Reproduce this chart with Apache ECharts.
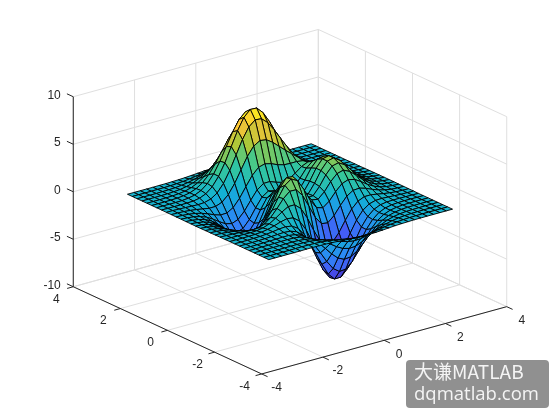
<!DOCTYPE html>
<html>
<head>
<meta charset="utf-8">
<style>html,body{margin:0;padding:0;background:#fff}#c{width:560px;height:420px}</style>
<script src="https://cdn.jsdelivr.net/npm/echarts@6/dist/echarts.min.js"></script>
</head>
<body>
<div id="c"></div>
<script>
const xTicks = [-4,-2,0,2,4];
const yTicks = [-4,-2,0,2,4];
const zTicks = [-10,-5,0,5,10];
const meshX = [-3,-2.793,-2.586,-2.379,-2.172,-1.966,-1.759,-1.552,-1.345,-1.138,-0.931,-0.724,-0.517,-0.31,-0.103,0.103,0.31,0.517,0.724,0.931,1.138,1.345,1.552,1.759,1.966,2.172,2.379,2.586,2.793,3];
const meshY = meshX.slice();
const heights = [
[0,0,0,0,0,0,.01,.01,0,-.01,-.04,-.08,-.13,-.19,-.23,-.25,-.25,-.22,-.18,-.13,-.08,-.05,-.03,-.01,-.01,0,0,0,0,0],
[0,0,0,0,0,.01,.01,.01,-.01,-.04,-.11,-.2,-.32,-.45,-.55,-.6,-.58,-.51,-.41,-.29,-.19,-.11,-.06,-.03,-.01,0,0,0,0,0],
[0,0,0,0,.01,.01,.02,.01,-.02,-.1,-.23,-.43,-.67,-.93,-1.13,-1.23,-1.2,-1.06,-.84,-.6,-.39,-.23,-.12,-.06,-.02,-.01,0,0,0,0],
[0,0,0,.01,.01,.02,.03,.01,-.05,-.18,-.43,-.79,-1.25,-1.72,-2.09,-2.28,-2.22,-1.95,-1.55,-1.11,-.71,-.41,-.22,-.1,-.04,-.02,-.01,0,0,0],
[0,0,.01,.01,.02,.04,.05,.03,-.05,-.26,-.64,-1.23,-1.96,-2.72,-3.34,-3.65,-3.58,-3.15,-2.5,-1.78,-1.14,-.66,-.34,-.16,-.06,-.02,-.01,0,0,0],
[0,0,.01,.02,.03,.05,.07,.07,-.03,-.29,-.81,-1.61,-2.66,-3.76,-4.68,-5.17,-5.1,-4.5,-3.57,-2.53,-1.61,-.91,-.46,-.2,-.08,-.02,0,0,0,0],
[0,0,.01,.02,.04,.08,.12,.15,.1,-.14,-.69,-1.62,-2.88,-4.28,-5.5,-6.2,-6.19,-5.51,-4.37,-3.07,-1.92,-1.05,-.5,-.2,-.06,-.01,.01,.01,0,0],
[0,0,0,.02,.04,.09,.17,.27,.32,.22,-.2,-1.06,-2.35,-3.9,-5.35,-6.28,-6.43,-5.78,-4.57,-3.16,-1.9,-.97,-.39,-.1,.01,.03,.03,.02,.01,0],
[0,0,-.01,0,.02,.07,.18,.37,.59,.75,.66,.14,-.92,-2.39,-3.93,-5.07,-5.46,-5.01,-3.93,-2.6,-1.41,-.55,-.07,.12,.15,.11,.07,.03,.02,.01],
[-.01,-.01,-.02,-.04,-.05,-.02,.09,.34,.75,1.23,1.61,1.62,1.03,-.14,-1.62,-2.91,-3.57,-3.41,-2.59,-1.48,-.48,.17,.46,.47,.36,.23,.13,.06,.03,.01],
[-.01,-.03,-.06,-.1,-.16,-.2,-.15,.08,.6,1.36,2.21,2.8,2.78,2.02,.7,-.65,-1.52,-1.62,-1.03,-.14,.64,1.07,1.12,.92,.63,.38,.2,.09,.04,.02],
[-.02,-.04,-.1,-.19,-.33,-.48,-.57,-.45,.04,.95,2.12,3.19,3.68,3.31,2.2,.88,-.07,-.27,.24,1.05,1.71,1.96,1.8,1.39,.92,.54,.28,.13,.06,.02],
[-.03,-.06,-.14,-.29,-.52,-.82,-1.11,-1.19,-.85,.04,1.35,2.71,3.56,3.51,2.61,1.39,.5,.39,.99,1.88,2.54,2.72,2.4,1.82,1.2,.69,.36,.17,.07,.03],
[-.03,-.08,-.19,-.38,-.7,-1.15,-1.63,-1.94,-1.82,-1.07,.24,1.72,2.78,2.96,2.25,1.2,.47,.53,1.31,2.35,3.1,3.26,2.86,2.14,1.41,.82,.43,.2,.08,.03],
[-.04,-.09,-.21,-.45,-.83,-1.37,-2.01,-2.52,-2.6,-2.02,-.81,.68,1.84,2.17,1.65,.78,.24,.48,1.42,2.57,3.38,3.54,3.09,2.32,1.52,.88,.46,.21,.09,.03],
[-.04,-.09,-.22,-.46,-.87,-1.46,-2.17,-2.78,-3.01,-2.59,-1.52,-.12,1.04,1.46,1.11,.42,.04,.4,1.4,2.57,3.38,3.53,3.08,2.31,1.51,.87,.46,.21,.09,.03],
[-.03,-.09,-.21,-.44,-.82,-1.39,-2.08,-2.71,-3,-2.71,-1.81,-.58,.49,.94,.71,.19,-.06,.33,1.28,2.37,3.11,3.24,2.82,2.11,1.38,.8,.42,.19,.08,.03],
[-.03,-.08,-.18,-.37,-.7,-1.19,-1.8,-2.35,-2.63,-2.41,-1.66,-.61,.34,.79,.67,.3,.12,.46,1.23,2.11,2.69,2.77,2.4,1.79,1.17,.68,.35,.16,.07,.03],
[-.02,-.06,-.14,-.29,-.54,-.92,-1.37,-1.78,-1.95,-1.7,-1,-.04,.86,1.36,1.38,1.12,.93,1.07,1.52,2.04,2.34,2.3,1.94,1.43,.92,.53,.27,.13,.05,.02],
[-.02,-.04,-.1,-.2,-.37,-.61,-.89,-1.1,-1.07,-.68,.11,1.15,2.15,2.82,3.01,2.84,2.55,2.36,2.32,2.33,2.24,1.97,1.57,1.11,.7,.39,.2,.09,.04,.01],
[-.01,-.03,-.06,-.12,-.21,-.33,-.44,-.43,-.17,.45,1.44,2.68,3.91,4.82,5.22,5.12,4.67,4.07,3.47,2.91,2.37,1.83,1.32,.87,.53,.29,.14,.07,.03,.01],
[-.01,-.01,-.03,-.06,-.09,-.12,-.08,.11,.56,1.38,2.57,4.02,5.46,6.59,7.16,7.1,6.5,5.56,4.5,3.46,2.54,1.77,1.16,.71,.4,.21,.1,.04,.02,.01],
[0,-.01,-.01,-.02,-.01,.02,.14,.43,.99,1.89,3.14,4.65,6.16,7.37,8.02,7.99,7.33,6.22,4.92,3.64,2.53,1.65,1.01,.58,.31,.15,.07,.03,.01,0],
[0,0,0,0,.02,.09,.23,.53,1.08,1.92,3.07,4.43,5.8,6.92,7.53,7.51,6.89,5.83,4.57,3.31,2.24,1.41,.83,.45,.23,.11,.05,.02,.01,0],
[0,0,0,.01,.04,.1,.23,.49,.93,1.61,2.53,3.62,4.71,5.6,6.1,6.09,5.59,4.73,3.68,2.65,1.76,1.09,.62,.33,.16,.07,.03,.01,0,0],
[0,0,0,.01,.03,.08,.17,.36,.67,1.15,1.78,2.53,3.29,3.91,4.25,4.25,3.9,3.29,2.56,1.83,1.21,.74,.42,.22,.1,.05,.02,.01,0,0],
[0,0,0,.01,.02,.05,.11,.23,.42,.72,1.11,1.57,2.03,2.42,2.63,2.63,2.41,2.04,1.58,1.13,.74,.45,.25,.13,.06,.03,.01,0,0,0],
[0,0,0,0,.01,.03,.06,.13,.23,.39,.6,.85,1.1,1.31,1.42,1.42,1.31,1.1,.85,.61,.4,.24,.13,.07,.03,.01,.01,0,0,0],
[0,0,0,0,.01,.01,.03,.06,.11,.19,.29,.41,.54,.64,.69,.69,.64,.54,.41,.29,.19,.12,.06,.03,.02,.01,0,0,0,0],
[0,0,0,0,0,.01,.01,.03,.05,.08,.13,.18,.23,.27,.3,.3,.27,.23,.18,.13,.08,.05,.03,.01,.01,0,0,0,0,0]
];
const parula = [[62,38,168],[72,82,244],[46,135,247],[18,177,214],[55,200,151],[171,199,57],[254,195,56],[249,251,21]];

// Orthographic view: plane coordinates of a world point
function project(x, y, z) {
  return [290 + 30.63 * x - 23.55 * y, 201.7 - 8.41 * x - 10.9 * y - 9.5 * z];
}
const zValues = heights.flat();
const zMin = Math.min(...zValues), zMax = Math.max(...zValues);
function colorOf(z) {
  const t = Math.max(0, Math.min(1, (z - zMin) / (zMax - zMin))) * (parula.length - 1);
  const k = Math.min(parula.length - 2, Math.floor(t)), f = t - k;
  const c = parula[k].map((v, n) => Math.round(v + (parula[k + 1][n] - v) * f));
  return 'rgb(' + c.join(',') + ')';
}

// Wall and floor grid
const gridSegs = [];
xTicks.forEach(t => {
  gridSegs.push([t, -4, -10, t, 4, -10], [t, 4, -10, t, 4, 10]);
});
yTicks.forEach(t => {
  gridSegs.push([-4, t, -10, 4, t, -10], [4, t, -10, 4, t, 10]);
});
zTicks.forEach(t => {
  gridSegs.push([-4, 4, t, 4, 4, t], [4, 4, t, 4, -4, t]);
});
// Axis rulers and tick marks
const axisSegs = [[-4,4,-10,-4,4,10],[-4,-4,-10,4,-4,-10],[-4,-4,-10,-4,4,-10]];
xTicks.forEach(t => axisSegs.push([t, -4, -10, t, -4.25, -10]));
yTicks.forEach(t => axisSegs.push([-4, t, -10, -4.2, t, -10]));
zTicks.forEach(t => axisSegs.push([-4, 4, t, -4, 4.27, t]));
// Tick labels
const labels = [];
xTicks.forEach(t => labels.push([t, -4, -10, 15, 14, String(t), 'center']));
yTicks.forEach(t => labels.push([-4, t, -10, -17, 12.5, String(t), 'center']));
zTicks.forEach(t => labels.push([-4, 4, t, -12.5, -1.5, String(t), 'right']));
// Surface cells, far to near
const cells = [];
for (let i = meshY.length - 2; i >= 0; i--) {
  for (let j = meshX.length - 2; j >= 0; j--) cells.push([j, i]);
}

function segSeries(segs, color) {
  return {
    type: 'custom', coordinateSystem: 'cartesian2d', silent: true, animation: false,
    data: segs.map((s, n) => [n, 0]),
    renderItem(params, api) {
      const s = segs[api.value(0)];
      const a = api.coord(project(s[0], s[1], s[2]));
      const b = api.coord(project(s[3], s[4], s[5]));
      return { type: 'line', shape: { x1: a[0], y1: a[1], x2: b[0], y2: b[1] },
        style: { stroke: color, lineWidth: 1, fill: null } };
    }
  };
}

const chart = echarts.init(document.getElementById('c'), null, { renderer: 'canvas' });
chart.setOption({
  animation: false,
  backgroundColor: '#fff',
  grid: { left: 0, right: 0, top: 0, bottom: 0 },
  xAxis: { type: 'value', min: 0, max: 560, show: false },
  yAxis: { type: 'value', min: 0, max: 420, inverse: true, show: false },
  graphic: [
    { type: 'rect', silent: true, z: 100, shape: { x: 406, y: 360, width: 143, height: 48, r: 4 },
      style: { fill: 'rgba(125,125,125,0.85)' } },
    { type: 'text', silent: true, z: 101, x: 414, y: 372,
      style: { text: '大谦MATLAB', fill: '#f4f4f4', font: '19px "Noto Sans CJK SC"', textVerticalAlign: 'middle' } },
    { type: 'text', silent: true, z: 101, x: 414, y: 395,
      style: { text: 'dqmatlab.com', fill: '#f4f4f4', font: '18.5px "Open Sans"', textVerticalAlign: 'middle' } }
  ],
  series: [
    segSeries(gridSegs, '#dfdfdf'),
    segSeries(axisSegs, '#262626'),
    {
      type: 'custom', coordinateSystem: 'cartesian2d', silent: true, animation: false,
      data: labels.map((l, n) => [n, 0]),
      renderItem(params, api) {
        const l = labels[api.value(0)];
        const p = api.coord(project(l[0], l[1], l[2]));
        return { type: 'text', x: p[0] + l[3], y: p[1] + l[4],
          style: { text: l[5], fill: '#262626', font: '12px "Liberation Sans"', textAlign: l[6], textVerticalAlign: 'middle' } };
      }
    },
    {
      type: 'custom', coordinateSystem: 'cartesian2d', silent: true, animation: false, progressive: 0,
      data: cells,
      renderItem(params, api) {
        const j = api.value(0), i = api.value(1);
        const corners = [[j, i], [j + 1, i], [j + 1, i + 1], [j, i + 1]];
        const points = corners.map(c => api.coord(project(meshX[c[0]], meshY[c[1]], heights[c[1]][c[0]])));
        return { type: 'polygon', shape: { points },
          style: { fill: colorOf(heights[i][j]), stroke: '#000', lineWidth: 0.9 } };
      }
    }
  ]
});
</script>
</body>
</html>
